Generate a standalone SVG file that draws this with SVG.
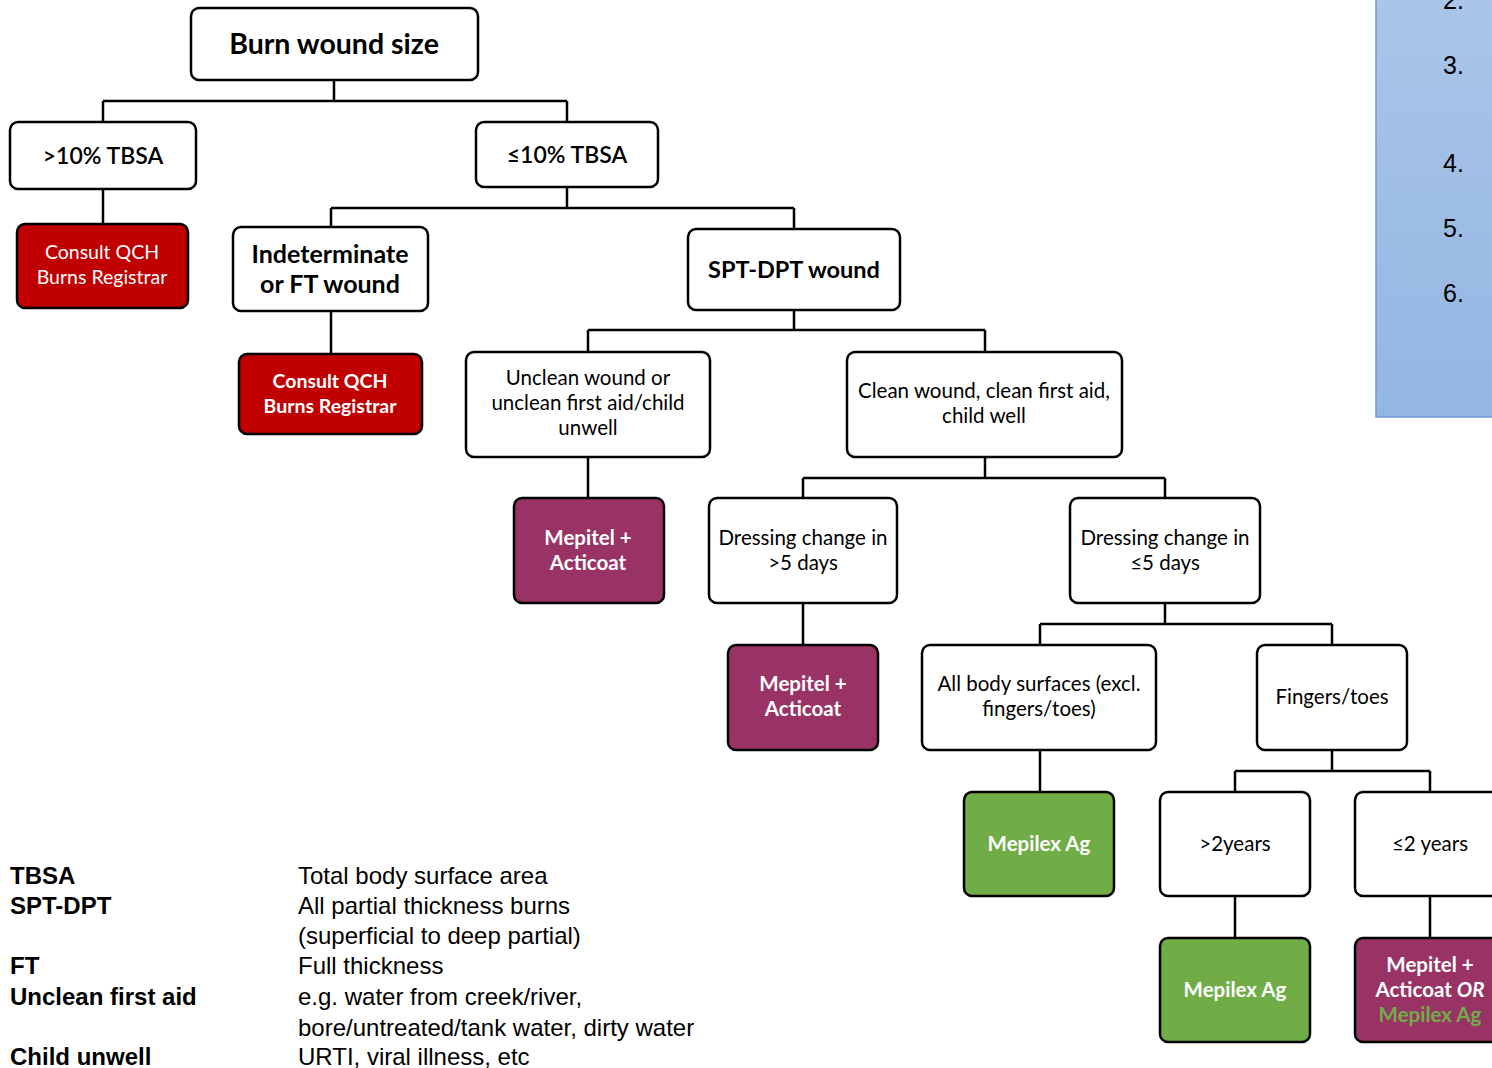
<svg xmlns="http://www.w3.org/2000/svg" width="1492" height="1068" viewBox="0 0 1492 1068">
<defs>
<linearGradient id="blueGrad" x1="0" y1="0" x2="0" y2="1">
<stop offset="0" stop-color="#AAC5E9"/>
<stop offset="1" stop-color="#93B6E2"/>
</linearGradient>
<style>
.box{fill:#fff;stroke:#000;stroke-width:2.5}
.red{fill:#C00000;stroke:#000;stroke-width:2.5}
.pur{fill:#993366;stroke:#000;stroke-width:2.5}
.grn{fill:#70AD47;stroke:#000;stroke-width:2.5}
.t{font-family:Lato,"Open Sans","Liberation Sans",sans-serif;text-anchor:middle;fill:#000;font-size:20.5px}
.w{fill:#fff}
.g{fill:#70AD47}
.b{font-weight:bold}
.conn{fill:none;stroke:#000;stroke-width:2.5}
.leg{font-family:"Liberation Sans Narrow","Liberation Sans",sans-serif;font-size:24px;fill:#000}
.num{font-family:"Liberation Sans",Arial,sans-serif;font-size:25px;fill:#000}
</style>
</defs>
<rect width="1492" height="1068" fill="#fff"/>

<g id="sidebar">
<rect x="1376" y="-4" width="130" height="421" fill="url(#blueGrad)" stroke="#6E9BD2" stroke-width="1.5"/>
<text class="num" x="1443" y="9">2.</text>
<text class="num" x="1443" y="74">3.</text>
<text class="num" x="1443" y="172">4.</text>
<text class="num" x="1443" y="237">5.</text>
<text class="num" x="1443" y="302">6.</text>
</g>

<g id="connectors">
<path class="conn" d="M334 80V101M103 101H567M103 101V122M567 101V122"/>
<path class="conn" d="M103 189V224"/>
<path class="conn" d="M567 187V208M331 208H794M331 208V227M794 208V229"/>
<path class="conn" d="M331 311V354"/>
<path class="conn" d="M794 310V330M588 330H985M588 330V352M985 330V352"/>
<path class="conn" d="M588 457V498"/>
<path class="conn" d="M985 457V478M803 478H1165M803 478V498M1165 478V498"/>
<path class="conn" d="M803 603V645"/>
<path class="conn" d="M1165 603V624M1040 624H1332M1040 624V645M1332 624V645"/>
<path class="conn" d="M1040 750V792"/>
<path class="conn" d="M1332 750V771M1235 771H1430M1235 771V792M1430 771V792"/>
<path class="conn" d="M1235 896V938M1430 896V938"/>
</g>

<g id="n-burn">
<rect class="box" x="191" y="8" width="287" height="72" rx="8"/>
<text class="t b" x="334" y="54" style="font-size:28.5px">Burn wound size</text>
</g>
<g id="n-gt10">
<rect class="box" x="10" y="122" width="186" height="67" rx="8"/>
<text class="t" x="103" y="164" style="font-size:23px;font-weight:600">&gt;10% TBSA</text>
</g>
<g id="n-le10">
<rect class="box" x="476" y="122" width="182" height="65" rx="8"/>
<text class="t" x="567" y="163" style="font-size:23px;font-weight:600">≤10% TBSA</text>
</g>
<g id="n-consult1">
<rect class="red" x="17" y="224" width="171" height="84" rx="8"/>
<text class="t w" x="102" y="259" style="font-size:19.5px">Consult QCH</text>
<text class="t w" x="102" y="284" style="font-size:19.5px">Burns Registrar</text>
</g>
<g id="n-indet">
<rect class="box" x="233" y="227" width="195" height="84" rx="8"/>
<text class="t b" x="330" y="263" style="font-size:25px">Indeterminate</text>
<text class="t b" x="330" y="293" style="font-size:25px">or FT wound</text>
</g>
<g id="n-spt">
<rect class="box" x="688" y="229" width="212" height="81" rx="8"/>
<text class="t b" x="794" y="278" style="font-size:23.5px">SPT-DPT wound</text>
</g>
<g id="n-consult2">
<rect class="red" x="239" y="354" width="183" height="80" rx="8"/>
<text class="t b w" x="330" y="388" style="font-size:19.5px">Consult QCH</text>
<text class="t b w" x="330" y="413" style="font-size:19.5px">Burns Registrar</text>
</g>
<g id="n-unclean">
<rect class="box" x="466" y="352" width="244" height="105" rx="8"/>
<text class="t" x="588" y="385">Unclean wound or</text>
<text class="t" x="588" y="410">unclean first aid/child</text>
<text class="t" x="588" y="435">unwell</text>
</g>
<g id="n-clean">
<rect class="box" x="847" y="352" width="275" height="105" rx="8"/>
<text class="t" x="984" y="398">Clean wound, clean first aid,</text>
<text class="t" x="984" y="423">child well</text>
</g>
<g id="n-mep1">
<rect class="pur" x="514" y="498" width="150" height="105" rx="8"/>
<text class="t b w" x="588" y="545">Mepitel +</text>
<text class="t b w" x="588" y="570">Acticoat</text>
</g>
<g id="n-dgt5">
<rect class="box" x="709" y="498" width="188" height="105" rx="8"/>
<text class="t" x="803" y="545">Dressing change in</text>
<text class="t" x="803" y="570">&gt;5 days</text>
</g>
<g id="n-dle5">
<rect class="box" x="1070" y="498" width="190" height="105" rx="8"/>
<text class="t" x="1165" y="545">Dressing change in</text>
<text class="t" x="1165" y="570">≤5 days</text>
</g>
<g id="n-mep2">
<rect class="pur" x="728" y="645" width="150" height="105" rx="8"/>
<text class="t b w" x="803" y="691">Mepitel +</text>
<text class="t b w" x="803" y="716">Acticoat</text>
</g>
<g id="n-allbody">
<rect class="box" x="922" y="645" width="234" height="105" rx="8"/>
<text class="t" x="1039" y="691">All body surfaces (excl.</text>
<text class="t" x="1039" y="716">fingers/toes)</text>
</g>
<g id="n-fingers">
<rect class="box" x="1257" y="645" width="150" height="105" rx="8"/>
<text class="t" x="1332" y="704">Fingers/toes</text>
</g>
<g id="n-mepilex1">
<rect class="grn" x="964" y="792" width="150" height="104" rx="8"/>
<text class="t b w" x="1039" y="851">Mepilex Ag</text>
</g>
<g id="n-gt2">
<rect class="box" x="1160" y="792" width="150" height="104" rx="8"/>
<text class="t" x="1235" y="851">&gt;2years</text>
</g>
<g id="n-le2">
<rect class="box" x="1355" y="792" width="150" height="104" rx="8"/>
<text class="t" x="1430" y="851">≤2 years</text>
</g>
<g id="n-mepilex2">
<rect class="grn" x="1160" y="938" width="150" height="104" rx="8"/>
<text class="t b w" x="1235" y="997">Mepilex Ag</text>
</g>
<g id="n-mep3">
<rect class="pur" x="1355" y="938" width="150" height="104" rx="8"/>
<text class="t b w" x="1430" y="972">Mepitel +</text>
<text class="t b w" x="1430" y="997">Acticoat <tspan font-style="italic">OR</tspan></text>
<text class="t b g" x="1430" y="1022">Mepilex Ag</text>
</g>

<g id="legend">
<text class="leg" x="10" y="884" font-weight="bold">TBSA</text>
<text class="leg" x="10" y="914" font-weight="bold">SPT-DPT</text>
<text class="leg" x="10" y="974" font-weight="bold">FT</text>
<text class="leg" x="10" y="1005" font-weight="bold">Unclean first aid</text>
<text class="leg" x="10" y="1065" font-weight="bold">Child unwell</text>
<text class="leg" x="298" y="884">Total body surface area</text>
<text class="leg" x="298" y="914">All partial thickness burns</text>
<text class="leg" x="298" y="944">(superficial to deep partial)</text>
<text class="leg" x="298" y="974">Full thickness</text>
<text class="leg" x="298" y="1005">e.g. water from creek/river,</text>
<text class="leg" x="298" y="1036">bore/untreated/tank water, dirty water</text>
<text class="leg" x="298" y="1065">URTI, viral illness, etc</text>
</g>
</svg>
